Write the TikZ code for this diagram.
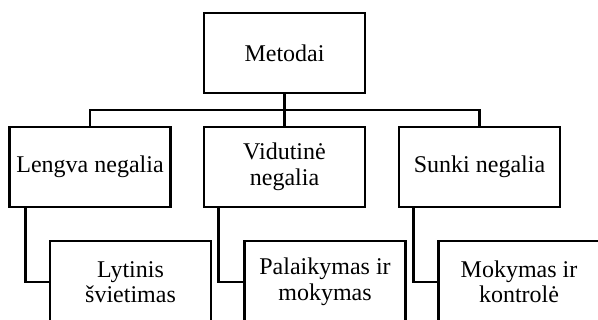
\documentclass[tikz,border=0pt]{standalone}
\usepackage{fontspec}
\setmainfont{Liberation Serif}
\begin{document}
\begin{tikzpicture}[x=1pt,y=-1pt,
  box/.style={draw=black, line width=2.6pt, rectangle, inner sep=0pt,
    minimum width=161pt, minimum height=80pt, align=center,
    font=\fontsize{24}{25.5}\selectfont},
  lowbox/.style={box, minimum height=82pt},
  conn/.style={draw=black, line width=2.6pt}]
\useasboundingbox (0,0) rectangle (598,320);
\clip (0,0) rectangle (598,320);
\node[box] (top) at (284.5,53) {Metodai};
\node[box] (l1) at (90,167) {Lengva negalia};
\node[box] (l2) at (284.5,167) {Vidutinė\\negalia};
\node[box] (l3) at (479.5,167) {Sunki negalia};
\node[lowbox] (b1) at (130.5,282) {Lytinis\\švietimas};
\node[lowbox] (b2) at (325,282) {Palaikymas ir\\mokymas};
\node[lowbox] (b3) at (519,282) {Mokymas ir\\kontrolė};
\coordinate (j) at (284.5,110);
\draw[conn] (top.south) -- (l2.north);
\draw[conn] (l1.north) |- (j) -| (l3.north);
\draw[conn] ([xshift=17pt]l1.south west) |- (b1.west);
\draw[conn] ([xshift=16pt]l2.south west) |- (b2.west);
\draw[conn] ([xshift=16pt]l3.south west) |- (b3.west);
\end{tikzpicture}
\end{document}
